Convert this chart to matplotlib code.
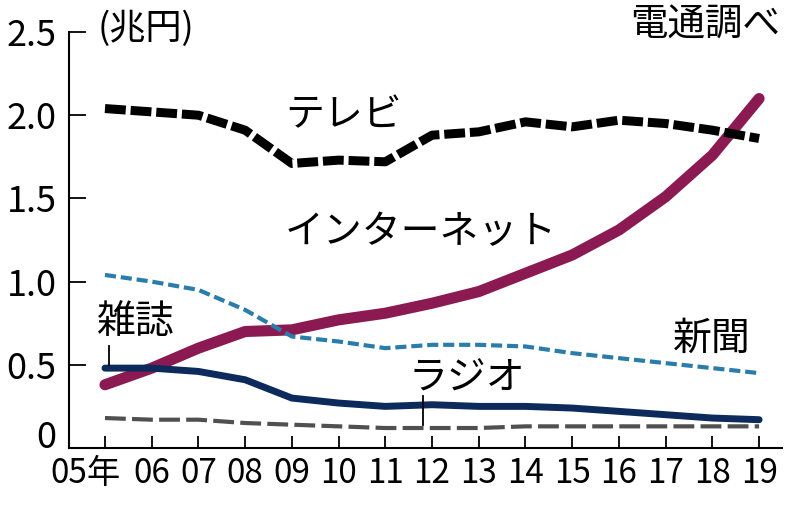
import matplotlib
matplotlib.use('Agg')
import matplotlib.pyplot as plt
import matplotlib.transforms as mtransforms

plt.rcParams['font.family'] = ['Noto Sans CJK JP', 'DejaVu Sans']
plt.rcParams['lines.scale_dashes'] = False

# 電通「日本の広告費」 media spending, trillion yen
years = list(range(2005, 2020))
year_labels = ['05年'] + ['%02d' % (y % 100) for y in years[1:]]
tv = [2.04, 2.02, 2.00, 1.91, 1.71, 1.73, 1.72, 1.88, 1.90, 1.96, 1.93, 1.97, 1.95, 1.91, 1.86]
internet = [0.38, 0.48, 0.60, 0.70, 0.71, 0.77, 0.81, 0.87, 0.94, 1.05, 1.16, 1.31, 1.51, 1.76, 2.10]
newspaper = [1.04, 1.00, 0.95, 0.83, 0.67, 0.64, 0.60, 0.62, 0.62, 0.61, 0.57, 0.54, 0.51, 0.48, 0.45]
magazine = [0.48, 0.48, 0.46, 0.41, 0.30, 0.27, 0.25, 0.26, 0.25, 0.25, 0.24, 0.22, 0.20, 0.18, 0.17]
radio = [0.18, 0.17, 0.17, 0.15, 0.14, 0.13, 0.12, 0.12, 0.12, 0.13, 0.13, 0.13, 0.13, 0.13, 0.13]
yticks = [0, 0.5, 1.0, 1.5, 2.0, 2.5]
ytick_labels = ['0', '0.5', '1.0', '1.5', '2.0', '2.5']

fig = plt.figure(figsize=(8, 5.05), dpi=100)
fig.set_facecolor('w')
ax = fig.add_axes([0.08625, 0.1129, 0.89125, 0.8237])

ax.plot(years, radio, color='#505050', lw=3, dashes=(15, 4.5), solid_capstyle='butt')
ax.plot(years, internet, color='#8c1a52', lw=8, solid_capstyle='round', solid_joinstyle='round')
ax.plot(years, magazine, color='#0c2a5c', lw=5, solid_capstyle='round', solid_joinstyle='round')
ax.plot(years, newspaper, color='#2a7cab', lw=3, dashes=(8, 3.5))
ax.plot(years, tv, color='black', lw=6.5, dashes=(15, 3.5))

ax.set_xlim(2004.23, 2019.49)
ax.set_ylim(0, 2.5)
ax.set_xticks(years)
ax.set_xticklabels(year_labels)
ax.set_yticks(yticks)
ax.set_yticklabels(ytick_labels)

for s in ['top', 'right']:
    ax.spines[s].set_visible(False)
for s in ['left', 'bottom']:
    ax.spines[s].set_linewidth(1.5)
ax.tick_params(axis='x', direction='in', length=9, width=1.3, labelsize=24, pad=6)
ax.tick_params(axis='y', direction='in', length=12, width=1.3, labelsize=26, pad=9)

# "05年" sits a little left of its tick, the "0" sits above the x axis
first = ax.get_xticklabels()[0]
first.set_transform(first.get_transform() + mtransforms.ScaledTranslation(-14/72, 0, fig.dpi_scale_trans))
zero = ax.get_yticklabels()[0]
zero.set_transform(zero.get_transform() + mtransforms.ScaledTranslation(0, 10/72, fig.dpi_scale_trans))

# series labels
lab = dict(fontsize=28, va='center', ha='left')
ax.text(2008.85, 2.0, 'テレビ', **lab)
ax.text(2008.85, 1.30, 'インターネット', **lab)
ax.text(2004.83, 0.76, '雑誌', **lab)
ax.text(2017.15, 0.66, '新聞', **lab)
ax.text(2011.5, 0.42, 'ラジオ', **lab)
ax.plot([2005.08, 2005.08], [0.61, 0.50], color='black', lw=1.3)
ax.plot([2011.8, 2011.8], [0.31, 0.14], color='black', lw=1.3)

ax.text(2004.85, 2.52, '(兆円)', fontsize=26, va='center', ha='left', clip_on=False)
ax.text(2019.45, 2.54, '電通調べ', fontsize=27, va='center', ha='right', clip_on=False)

fig.savefig('out.png', dpi=100)
